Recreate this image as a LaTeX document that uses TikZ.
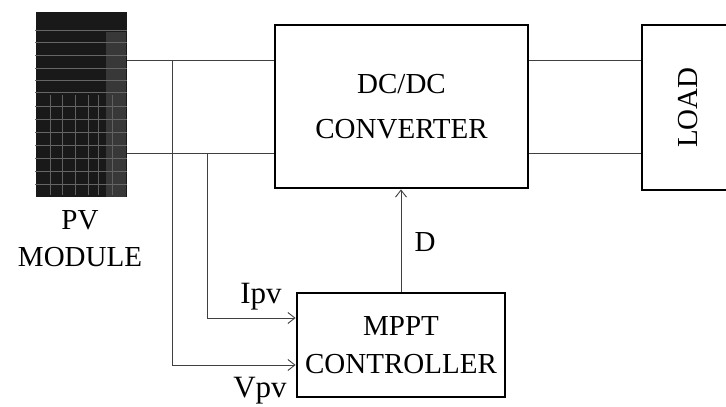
\documentclass[tikz,border=0pt]{standalone}
\usepackage{fontspec}
\setmainfont{Liberation Serif}
\usetikzlibrary{positioning,arrows.meta}

\begin{document}
\begin{tikzpicture}[x=1pt,y=-1pt,
  block/.style={draw, line width=2.8pt, align=center, inner sep=0pt,
    font=\fontsize{29}{45}\selectfont},
  lbl/.style={align=center, inner sep=0pt, font=\fontsize{29}{37}\selectfont},
  wire/.style={line width=0.9pt, black!75},
  sig/.style={wire, -{Straight Barb[length=7pt,width=11pt]}}]
  \useasboundingbox (0,0) rectangle (726,407);
  \clip (0,0) rectangle (726,407);

  % blocks
  \node[block, minimum width=253, minimum height=163] (dc) at (401.5,106.5) {DC/DC\\CONVERTER};
  \node[block, minimum width=92, minimum height=165] (load) at (688,107.5) {\rotatebox{90}{LOAD}};
  \node[block, minimum width=208, minimum height=104,
    font=\fontsize{29}{38}\selectfont] (mppt) at (401,345) {MPPT\\CONTROLLER};

  % pv module: dark panel with cell grid
  \node[fill=black!90, minimum width=91, minimum height=185, inner sep=0pt] (pv) at (81,104.5) {};
  \fill[black!78] (106,32) rectangle (126,197);
  \foreach \y in {30,42,55,68,80,92,106,119,132,145,158,171,184} {
    \draw[black!60, line width=0.3pt] (pv.west |- 0,\y) -- (pv.east |- 0,\y);
  }
  \foreach \x in {50,62,75,88,98,112} {
    \draw[black!62, line width=0.3pt] (\x,95) -- (\x,195);
  }
  \node[lbl] (pvlbl) at (80,239) {PV\\MODULE};

  % wire levels
  \coordinate (ytop) at (0,60);
  \coordinate (ybot) at (0,153);
  \coordinate (tapv) at (172,0);
  \coordinate (tapi) at (207,0);
  \coordinate (yi) at (0,318);
  \coordinate (yv) at (0,365);

  % power lines
  \draw[wire] (pv.east |- ytop) -- (dc.west |- ytop);
  \draw[wire] (pv.east |- ybot) -- (dc.west |- ybot);
  \draw[wire] (dc.east |- ytop) -- (load.west |- ytop);
  \draw[wire] (dc.east |- ybot) -- (load.west |- ybot);

  % sensing lines
  \draw[sig] (tapv |- ytop) -- (tapv |- yv) -- (mppt.west |- yv);
  \draw[sig] (tapi |- ybot) -- (tapi |- yi) -- (mppt.west |- yi);
  \draw[sig] (mppt.north) -- (mppt.north |- dc.south);

  \node[lbl, font=\fontsize{31}{37}\selectfont] (ipv) at (261,297) {Ipv};
  \node[lbl, font=\fontsize{31}{37}\selectfont] (vpv) at (260,391) {Vpv};
  \node[lbl] (dlbl) at (425,242) {D};
\end{tikzpicture}
\end{document}
